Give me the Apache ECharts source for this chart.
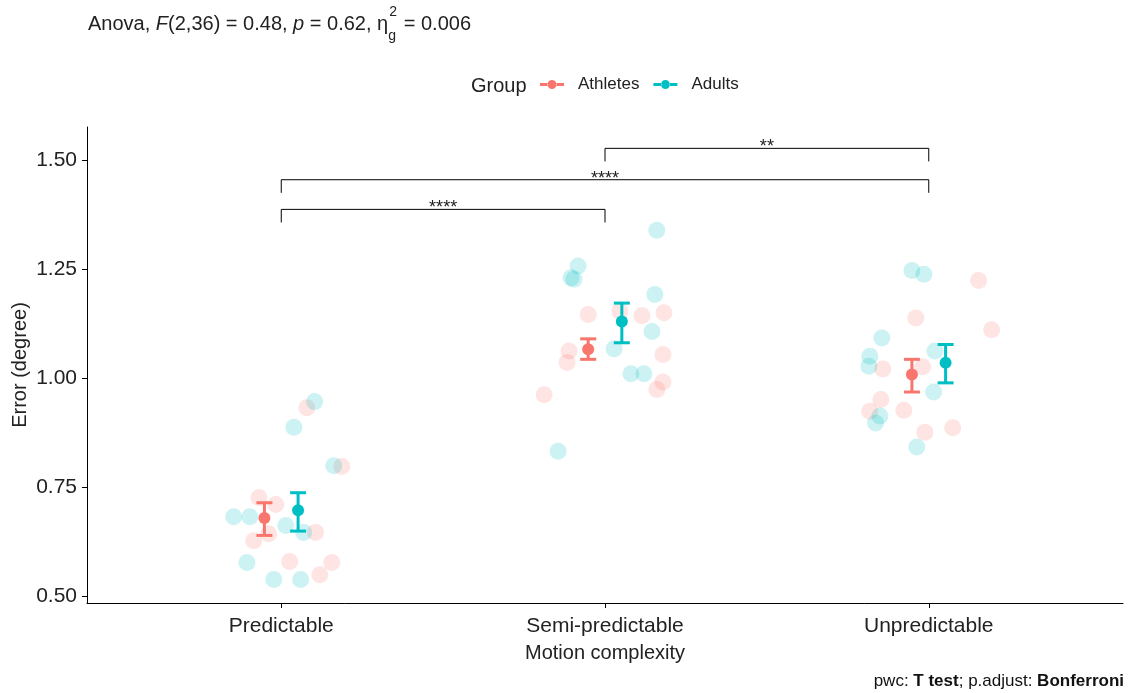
<!DOCTYPE html>
<html>
<head>
<meta charset="utf-8">
<script src="https://cdn.jsdelivr.net/npm/echarts@6/dist/echarts.min.js"></script>
<style>
html,body{margin:0;padding:0;background:#fff;}
#chart{width:1129px;height:693px;}
</style>
</head>
<body>
<div id="chart"></div>
<script>
// ---------- data ----------
const categories = ['Predictable', 'Semi-predictable', 'Unpredictable'];
const groupNames = ['Athletes', 'Adults'];
const yTicks = [0.5, 0.75, 1.0, 1.25, 1.5];

const athletesValues = [
  [0.933, 0.798, 0.727, 0.711, 0.647, 0.628, 0.644, 0.580, 0.578, 0.550],
  [1.147, 1.154, 1.144, 1.151, 1.063, 1.037, 1.055, 0.992, 0.975, 0.963],
  [1.225, 1.139, 1.112, 1.022, 1.027, 0.952, 0.925, 0.927, 0.877, 0.887]
];
const athletesJitter = [
  [0.079, 0.187, -0.069, -0.017, 0.106, -0.085, -0.039, 0.026, 0.156, 0.119],
  [-0.052, 0.046, 0.114, 0.182, -0.111, -0.117, 0.179, 0.179, 0.160, -0.188],
  [0.154, -0.040, 0.194, -0.142, -0.019, -0.148, -0.182, -0.077, -0.012, 0.074]
];
const adultsValues = [
  [0.947, 0.888, 0.800, 0.683, 0.683, 0.663, 0.647, 0.578, 0.539, 0.539],
  [1.340, 1.258, 1.231, 1.228, 1.193, 1.108, 1.068, 1.011, 1.011, 0.833],
  [1.248, 1.239, 1.093, 1.063, 1.051, 1.028, 0.969, 0.914, 0.898, 0.843]
];
const adultsJitter = [
  [0.103, 0.039, 0.162, -0.147, -0.097, 0.014, 0.069, -0.106, -0.023, 0.060],
  [0.160, -0.083, -0.105, -0.096, 0.154, 0.145, 0.028, 0.080, 0.120, -0.145],
  [-0.052, -0.015, -0.145, 0.019, -0.182, -0.185, 0.015, -0.151, -0.164, -0.037]
];

// means and error bar limits
const athletesMean  = [0.680, 1.067, 1.009];
const athletesLower = [0.640, 1.044, 0.969];
const athletesUpper = [0.715, 1.091, 1.044];
const adultsMean  = [0.698, 1.131, 1.036];
const adultsLower = [0.650, 1.082, 0.990];
const adultsUpper = [0.738, 1.173, 1.078];
const dodge = 0.052;

// pairwise comparisons
const bracketFrom  = [0, 0, 1];
const bracketTo    = [1, 2, 2];
const bracketY     = [1.388, 1.456, 1.528];
const bracketTip   = [1.358, 1.426, 1.498];
const bracketLabel = ['****', '****', '**'];

const colors = ['#F8766D', '#00BFC4'];
const FONT = '"Liberation Sans", Arial, sans-serif';

// ---------- build ----------
function points(values, jitter) {
  const out = [];
  values.forEach((arr, ci) => arr.forEach((v, i) => out.push([ci + 1 + jitter[ci][i], v])));
  return out;
}
function summary(mean, lo, hi, off) {
  return mean.map((m, ci) => [ci + 1 + off, m, lo[ci], hi[ci]]);
}
function errRender(color) {
  return function (params, api) {
    const x = api.value(0);
    const pM = api.coord([x, api.value(1)]);
    const pLo = api.coord([x, api.value(2)]);
    const pHi = api.coord([x, api.value(3)]);
    const hw = 8;
    const st = { stroke: color, lineWidth: 3 };
    return {
      type: 'group',
      children: [
        { type: 'line', shape: { x1: pLo[0], y1: pLo[1], x2: pHi[0], y2: pHi[1] }, style: st },
        { type: 'line', shape: { x1: pHi[0] - hw, y1: pHi[1], x2: pHi[0] + hw, y2: pHi[1] }, style: st },
        { type: 'line', shape: { x1: pLo[0] - hw, y1: pLo[1], x2: pLo[0] + hw, y2: pLo[1] }, style: st },
        { type: 'circle', shape: { cx: pM[0], cy: pM[1], r: 6 }, style: { fill: color } }
      ]
    };
  };
}
const bracketData = bracketFrom.map((f, i) => [f + 1, bracketY[i], bracketTo[i] + 1, bracketTip[i]]);
function bracketRender(params, api) {
  const i = params.dataIndex;
  const a = api.coord([api.value(0), api.value(1)]);
  const b = api.coord([api.value(2), api.value(1)]);
  const ta = api.coord([api.value(0), api.value(3)]);
  return {
    type: 'group',
    children: [
      { type: 'polyline', shape: { points: [[a[0], ta[1]], a, b, [b[0], ta[1]]] },
        style: { stroke: '#000', lineWidth: 1, fill: null } },
      { type: 'text', x: (a[0] + b[0]) / 2, y: a[1] - 1,
        style: { text: bracketLabel[i], font: '18px ' + FONT, fill: '#222', align: 'center', verticalAlign: 'middle' } }
    ]
  };
}

const legendIcon = 'path://M0,4h8v3h-8z M16,4h8v3h-8z M7.5,5.5a4.5,4.5 0 1,0 9,0a4.5,4.5 0 1,0 -9,0z';

const chart = echarts.init(document.getElementById('chart'), null, { renderer: 'canvas' });
chart.setOption({
  backgroundColor: '#fff',
  animation: false,
  title: [
    {
      left: 83, top: 0,
      text: '{n|Anova, }{i|F}{n|(2,36) = 0.48, }{i|p}{n| = 0.62, η}{sub|g}{sup|2}{n| = 0.006}',
      textStyle: {
        fontWeight: 'normal',
        rich: {
          n: { fontSize: 20, fontWeight: 'normal', fontFamily: FONT, color: '#222', lineHeight: 38, verticalAlign: 'middle' },
          i: { fontSize: 20, fontWeight: 'normal', fontFamily: FONT, fontStyle: 'italic', color: '#222', lineHeight: 38, verticalAlign: 'middle' },
          sub: { fontSize: 14, fontWeight: 'normal', fontFamily: FONT, color: '#222', width: 0, lineHeight: 14, verticalAlign: 'bottom' },
          sup: { fontSize: 14, fontWeight: 'normal', fontFamily: FONT, color: '#222', width: 9, lineHeight: 14, verticalAlign: 'top', padding: [0, 0, 0, 1] }
        }
      }
    },
    {
      left: 466, top: 71, text: 'Group',
      textStyle: { fontSize: 20, fontWeight: 'normal', fontFamily: FONT, color: '#222' }
    },
    {
      right: 0, top: 668,
      text: '{n|pwc: }{b|T test}{n|; p.adjust: }{b|Bonferroni}',
      textStyle: {
        fontWeight: 'normal',
        rich: {
          n: { fontSize: 17, fontWeight: 'normal', fontFamily: FONT, color: '#111' },
          b: { fontSize: 17, fontWeight: 'bold', fontFamily: FONT, color: '#111' }
        }
      }
    }
  ],
  legend: {
    left: 535, top: 71,
    itemWidth: 24, itemHeight: 11, itemGap: 14,
    textStyle: { fontSize: 17, fontFamily: FONT, color: '#222', padding: [0, 0, 0, 9] },
    data: groupNames.map((g, i) => ({ name: g, icon: legendIcon, itemStyle: { color: colors[i], opacity: 1 } }))
  },
  grid: { left: 87, right: 6, top: 127, bottom: 90, containLabel: false, outerBoundsMode: 'none' },
  xAxis: {
    type: 'value', min: 0.4, max: 3.6,
    name: 'Motion complexity', nameLocation: 'middle', nameGap: 40,
    nameTextStyle: { fontSize: 20, fontFamily: FONT, color: '#222' },
    axisLine: { show: true, onZero: false, lineStyle: { color: '#000', width: 1 } },
    axisTick: { show: true, length: 5, customValues: [1, 2, 3], lineStyle: { color: '#000' } },
    axisLabel: { customValues: [1, 2, 3], margin: 13, fontSize: 21, fontFamily: FONT, color: '#222',
      formatter: v => categories[Math.round(v) - 1] || '' },
    splitLine: { show: false }
  },
  yAxis: {
    type: 'value', min: 0.485, max: 1.577,
    name: 'Error (degree)', nameLocation: 'middle', nameGap: 57, nameRotate: 90, nameMoveOverlap: false,
    nameTextStyle: { fontSize: 20, fontFamily: FONT, color: '#222' },
    axisLine: { show: true, onZero: false, lineStyle: { color: '#000', width: 1 } },
    axisTick: { show: true, length: 5, customValues: yTicks, lineStyle: { color: '#000' } },
    axisLabel: { customValues: yTicks, margin: 10, fontSize: 21, fontFamily: FONT, color: '#222',
      formatter: v => v.toFixed(2) },
    splitLine: { show: false }
  },
  series: [
    { name: 'Athletes', type: 'scatter', symbolSize: 17, z: 2,
      itemStyle: { color: colors[0], opacity: 0.2 }, data: points(athletesValues, athletesJitter) },
    { name: 'Adults', type: 'scatter', symbolSize: 17, z: 2,
      itemStyle: { color: colors[1], opacity: 0.2 }, data: points(adultsValues, adultsJitter) },
    { name: 'Athletes', type: 'custom', z: 5, renderItem: errRender(colors[0]),
      data: summary(athletesMean, athletesLower, athletesUpper, -dodge) },
    { name: 'Adults', type: 'custom', z: 5, renderItem: errRender(colors[1]),
      data: summary(adultsMean, adultsLower, adultsUpper, dodge) },
    { name: 'brackets', type: 'custom', z: 6, renderItem: bracketRender, data: bracketData }
  ]
});
</script>
</body>
</html>
